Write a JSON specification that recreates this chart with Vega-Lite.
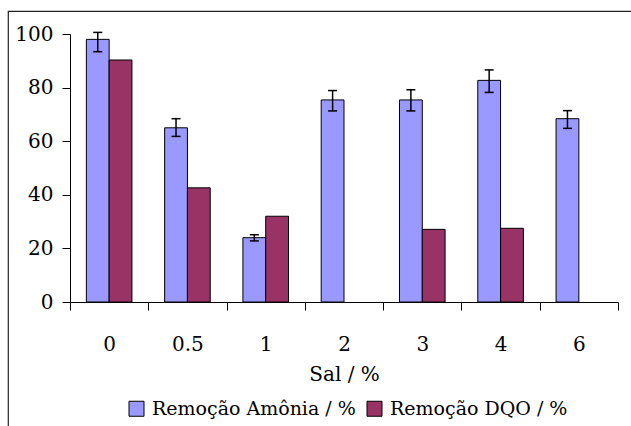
{
  "$schema": "https://vega.github.io/schema/vega-lite/v6.json",
  "width": 623,
  "height": 415,
  "autosize": {"type": "none"},
  "padding": {"left": 8, "top": 11, "right": 0, "bottom": 0},
  "background": "white",
  "config": {
    "view": {"stroke": "#222222", "strokeWidth": 1.2, "strokeDash": [623, 1038, 415]},
    "font": "DejaVu Serif",
    "axis": {
      "labelFont": "DejaVu Serif", "labelFontSize": 20, "labelColor": "black",
      "titleFont": "DejaVu Serif", "titleFontSize": 20, "titleColor": "black", "titleFontWeight": "normal",
      "domainColor": "black", "tickColor": "black", "domainWidth": 1, "tickWidth": 1, "tickSize": 8, "grid": false
    },
    "legend": {"labelFont": "DejaVu Serif", "labelFontSize": 19, "labelColor": "black", "labelLimit": 400}
  },
  "data": {
    "values": [
      {"sal": "0", "serie": "Remoção Amônia / %", "valor": 98, "lo": 93.4, "hi": 100.6},
      {"sal": "0.5", "serie": "Remoção Amônia / %", "valor": 65, "lo": 61.8, "hi": 68.4},
      {"sal": "1", "serie": "Remoção Amônia / %", "valor": 24, "lo": 22.8, "hi": 25.1},
      {"sal": "2", "serie": "Remoção Amônia / %", "valor": 75.4, "lo": 71.3, "hi": 78.9},
      {"sal": "3", "serie": "Remoção Amônia / %", "valor": 75.4, "lo": 71.3, "hi": 79.2},
      {"sal": "4", "serie": "Remoção Amônia / %", "valor": 82.7, "lo": 78.2, "hi": 86.6},
      {"sal": "6", "serie": "Remoção Amônia / %", "valor": 68.4, "lo": 64.8, "hi": 71.4},
      {"sal": "0", "serie": "Remoção DQO / %", "valor": 90.3},
      {"sal": "0.5", "serie": "Remoção DQO / %", "valor": 42.6},
      {"sal": "1", "serie": "Remoção DQO / %", "valor": 32},
      {"sal": "3", "serie": "Remoção DQO / %", "valor": 27.1},
      {"sal": "4", "serie": "Remoção DQO / %", "valor": 27.5}
    ]
  },
  "encoding": {
    "x": {
      "field": "sal", "type": "nominal",
      "sort": ["0", "0.5", "1", "2", "3", "4", "6"],
      "scale": {"range": [62, 610], "paddingInner": 0, "paddingOuter": 0},
      "axis": {"labelAngle": 0, "offset": -124, "tickBand": "extent", "labelPadding": 24, "title": "Sal / %", "titlePadding": 10}
    },
    "xOffset": {
      "field": "serie", "type": "nominal",
      "scale": {"domain": ["Remoção Amônia / %", "Remoção DQO / %"], "paddingInner": 0, "paddingOuter": 0.717}
    }
  },
  "layer": [
    {
      "mark": {"type": "bar", "stroke": "black", "strokeWidth": 1},
      "encoding": {
        "y": {
          "field": "valor", "type": "quantitative",
          "scale": {"domain": [0, 100], "range": [291, 23], "nice": false, "zero": true},
          "axis": {"values": [0, 20, 40, 60, 80, 100], "offset": -62, "labelPadding": 9, "title": null}
        },
        "color": {
          "field": "serie", "type": "nominal",
          "scale": {"domain": ["Remoção Amônia / %", "Remoção DQO / %"], "range": ["#9999FF", "#993366"]},
          "legend": {
            "title": null, "orient": "none", "direction": "horizontal", "legendX": 119, "legendY": 388,
            "symbolType": "square", "symbolSize": 225, "symbolStrokeColor": "black", "symbolStrokeWidth": 1,
            "symbolOpacity": 1, "labelOffset": 6, "columnPadding": 9, "padding": 0, "labelLimit": 400
          }
        }
      }
    },
    {
      "transform": [{"filter": "isValid(datum.lo)"}],
      "mark": {"type": "rule", "color": "black", "strokeWidth": 1.5},
      "encoding": {
        "y": {"field": "lo", "type": "quantitative"},
        "y2": {"field": "hi"}
      }
    },
    {
      "transform": [{"filter": "isValid(datum.lo)"}],
      "mark": {"type": "tick", "color": "black", "thickness": 1.5, "size": 9, "opacity": 1},
      "encoding": {"y": {"field": "lo", "type": "quantitative"}}
    },
    {
      "transform": [{"filter": "isValid(datum.hi)"}],
      "mark": {"type": "tick", "color": "black", "thickness": 1.5, "size": 9, "opacity": 1},
      "encoding": {"y": {"field": "hi", "type": "quantitative"}}
    }
  ]
}
